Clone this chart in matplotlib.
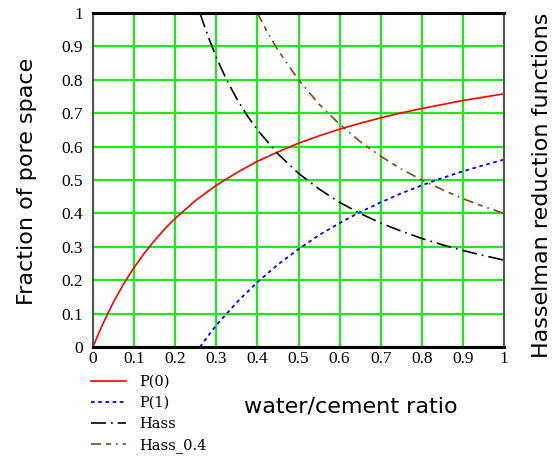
import numpy as np
import matplotlib
matplotlib.use('Agg')
import matplotlib.pyplot as plt

# values
wc_p0 = [0, 0.01, 0.025, 0.05, 0.075, 0.1, 0.125, 0.15, 0.175, 0.2, 0.25, 0.3, 0.35, 0.4,
         0.45, 0.5, 0.55, 0.6, 0.65, 0.7, 0.75, 0.8, 0.85, 0.9, 0.95, 1.0]
p0 = [0, 0.030, 0.072, 0.135, 0.190, 0.238, 0.281, 0.319, 0.354, 0.385, 0.439, 0.484,
      0.522, 0.556, 0.584, 0.610, 0.632, 0.652, 0.670, 0.686, 0.701, 0.714, 0.726, 0.738,
      0.748, 0.758]

wc_p1 = [0.26, 0.28, 0.3, 0.35, 0.4, 0.45, 0.5, 0.55, 0.6, 0.65, 0.7, 0.75, 0.8, 0.85,
         0.9, 0.95, 1.0]
p1 = [0, 0.033, 0.065, 0.134, 0.194, 0.247, 0.293, 0.335, 0.371, 0.404, 0.433, 0.460,
      0.484, 0.506, 0.526, 0.544, 0.561]

wc_hass = [0.26, 0.28, 0.3, 0.325, 0.35, 0.375, 0.4, 0.45, 0.5, 0.55, 0.6, 0.65, 0.7,
           0.75, 0.8, 0.85, 0.9, 0.95, 1.0]
hass = [1.0, 0.93, 0.867, 0.80, 0.743, 0.693, 0.65, 0.578, 0.52, 0.473, 0.433, 0.4,
        0.371, 0.347, 0.325, 0.306, 0.289, 0.274, 0.26]

wc_hass04 = [0.4, 0.425, 0.45, 0.5, 0.55, 0.6, 0.65, 0.7, 0.75, 0.8, 0.85, 0.9, 0.95, 1.0]
hass04 = [1.0, 0.941, 0.889, 0.8, 0.727, 0.667, 0.615, 0.571, 0.533, 0.5, 0.471, 0.444,
          0.421, 0.4]

ticks = np.round(np.arange(0, 1.01, 0.1), 1)
tick_labels = ['0', '0.1', '0.2', '0.3', '0.4', '0.5', '0.6', '0.7', '0.8', '0.9', '1']

W, H = 558, 468
fig = plt.figure(figsize=(W / 100, H / 100), dpi=100)
ax = fig.add_axes([93 / W, 1 - 347 / H, (504 - 93) / W, (347 - 13) / H])

ax.plot(wc_p0, p0, color='red', lw=1.2, label='P(0)')
ax.plot(wc_p1, p1, color='blue', lw=1.3, ls=(0, (2, 2)), label='P(1)')
ax.plot(wc_hass, hass, color='black', lw=1.2, ls=(0, (9, 3, 1, 3)), label='Hass')
ax.plot(wc_hass04, hass04, color='#8b4513', lw=1.2, ls=(0, (6, 3, 3, 3, 1, 3)),
        label='Hass_0.4')

ax.set_xlim(0, 1)
ax.set_ylim(0, 1)
ax.set_xticks(ticks)
ax.set_yticks(ticks)
ax.set_xticklabels(tick_labels, family='Liberation Serif', fontsize=12.5)
ax.set_yticklabels(tick_labels, family='Liberation Serif', fontsize=12.5)
ax.tick_params(axis='x', length=0, pad=3)
ax.tick_params(axis='y', length=0, pad=7)
ax.grid(True, color='#1ee81e', lw=1.6)
ax.set_axisbelow(True)

for s in ['top', 'bottom']:
    ax.spines[s].set_color('black')
    ax.spines[s].set_linewidth(2.2)
for s in ['left', 'right']:
    ax.spines[s].set_color('#555555')
    ax.spines[s].set_linewidth(1.5)

fig.text(27 / W, 1 - 181 / H, 'Fraction of pore space', rotation=90,
         ha='center', va='center', fontsize=16)
fig.text(542 / W, 1 - 185 / H, 'Hasselman reduction functions', rotation=90,
         ha='center', va='center', fontsize=16)
fig.text(351 / W, 1 - 407 / H, 'water/cement ratio', ha='center', va='center',
         fontsize=16)

ax.legend(loc='upper left', bbox_to_anchor=(91 / W, 1 - 375 / H),
          bbox_transform=fig.transFigure, frameon=False, borderpad=0,
          borderaxespad=0, handlelength=2.4, handletextpad=0.9, labelspacing=0.48,
          prop={'family': 'DejaVu Serif', 'size': 10.5})

fig.savefig('out.png', dpi=100)
